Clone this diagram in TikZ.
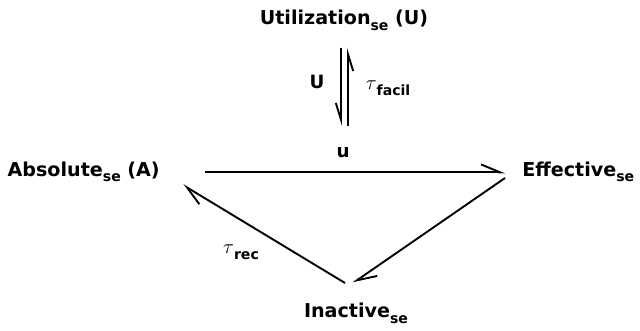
\documentclass[tikz,border=0pt]{standalone}
\usepackage{fontspec}
\setmainfont{DejaVu Sans}
\usepackage{tikz}
\usetikzlibrary{arrows.meta,positioning,calc}
\newcommand{\subtxt}[1]{\raisebox{-0.55ex}{\fontsize{10}{11}\selectfont #1}}
\tikzset{
  statebox/.style={
    inner sep=0pt, font=\bfseries\fontsize{13.6}{15}\selectfont
  },
  labelnode/.style={
    inner sep=0pt, font=\bfseries\fontsize{13}{15}\selectfont
  },
  harp/.style={
    -{Straight Barb[#1, length=0.48cm, width=0.4cm]}, line width=1.35pt
  },
  harp/.default=left,
  vharp/.style={
    -{Straight Barb[right, length=0.42cm, width=0.26cm]}, line width=1.35pt
  },
}
\begin{document}
\begin{tikzpicture}
  \useasboundingbox (0,0) rectangle (16,8.25);
  % the four states
  \node[statebox, anchor=base] (util) at (8.6,7.625)
    {Utilization\subtxt{se} (U)};
  \node[statebox, anchor=mid east] (abs) at (4.0,3.94)
    {Absolute\subtxt{se} (A)};
  \node[statebox, anchor=mid west] (eff) at (13.05,3.94)
    {Effective\subtxt{se}};
  \node[statebox, anchor=north] (ina) at (8.9,0.675)
    {Inactive\subtxt{se}};

  % utilization <-> line
  \draw[vharp] ([shift={(-0.075,-0.575)}]util.base)
    -- ([shift={(-0.075,-2.525)}]util.base);
  \draw[vharp] ([shift={(0.1,-2.525)}]util.base)
    -- ([shift={(0.1,-0.575)}]util.base);
  \node[labelnode] (lU) at (7.925,6.2) {U};
  \node[labelnode] (lfacil) at (9.7,6.05) {\fontsize{15}{17}\selectfont$\tau$\subtxt{facil}};

  % the cycle
  \draw[harp] ([xshift=1.125cm]abs.mid east) -- ([xshift=-0.425cm]eff.mid west);
  \node[labelnode] (lu) at (8.575,4.425) {u};
  \draw[harp] ([shift={(-0.425,-0.14)}]eff.mid west) -- ([shift={(-0.075,0.5)}]ina.north);
  \draw[harp] ([shift={(-0.275,0.5)}]ina.north) -- ([shift={(0.575,-0.315)}]abs.mid east);
  \node[labelnode] (lrec) at (6.025,1.95) {\fontsize{15}{17}\selectfont$\tau$\subtxt{rec}};
\end{tikzpicture}
\end{document}
